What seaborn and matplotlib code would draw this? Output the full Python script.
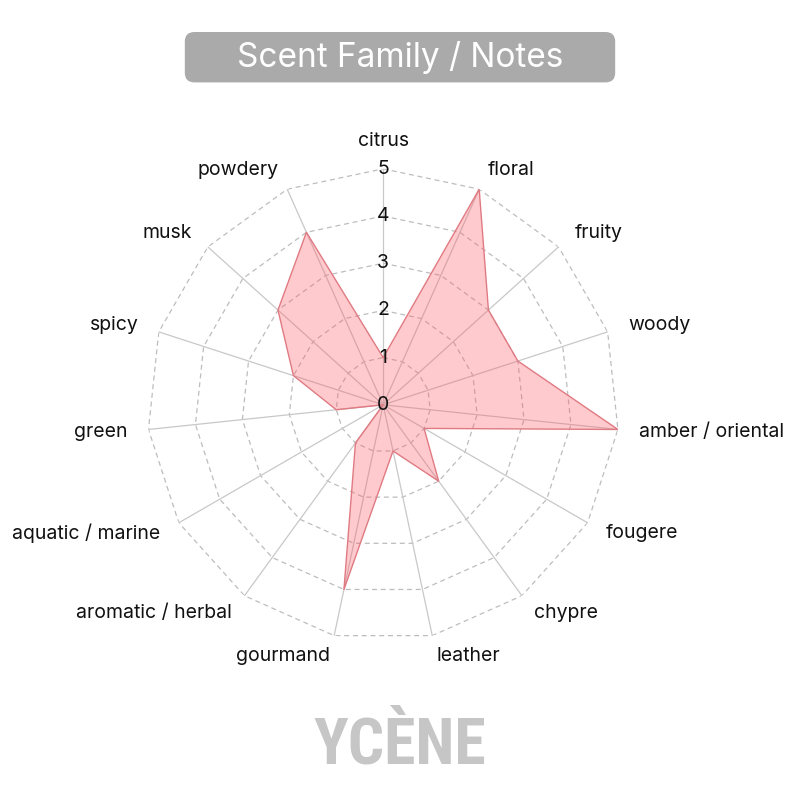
import numpy as np
import pandas as pd
import seaborn as sns
import matplotlib
matplotlib.use("Agg")
import matplotlib.pyplot as plt
from matplotlib.patches import FancyBboxPatch
from matplotlib import font_manager

categories = ["citrus", "floral", "fruity", "woody", "amber / oriental", "fougere",
              "chypre", "leather", "gourmand", "aromatic / herbal", "aquatic / marine",
              "green", "spicy", "musk", "powdery"]
values = [1, 5, 3, 3, 5, 1, 2, 1, 4, 1, 0, 1, 2, 3, 4]
ticks = [0, 1, 2, 3, 4, 5]
title = "Scent Family / Notes"
brand = "YCÈNE"

sns.set_theme(style="white")
plt.rcParams['font.family'] = ['Inter', 'DejaVu Sans']

installed = {f.name for f in font_manager.fontManager.ttflist}
narrow = [f for f in ["Roboto Condensed", "Liberation Sans Narrow", "DejaVu Sans Condensed"]
          if f in installed]
brand_family = narrow[0] if narrow else "Roboto"
brand_size = 46 if narrow else 38

fig = plt.figure(figsize=(8, 8), dpi=100)
ax = fig.add_axes([0.184, 0.199, 0.59, 0.59], projection="polar")
ax.set_theta_zero_location("N")
ax.set_theta_direction(-1)

n = len(categories)
angles = np.arange(n) * 2 * np.pi / n
df = pd.DataFrame({"angle": np.append(angles, 2 * np.pi),
                   "value": values + [values[0]]})

# grid: dashed polygon rings and solid spokes
for r in ticks[1:]:
    ax.plot(np.append(angles, 2 * np.pi), [r] * (n + 1), color="#bdbdbd",
            lw=0.9, ls=(0, (4, 3)), zorder=1)
for a in angles:
    ax.plot([a, a], [0, ticks[-1]], color="#c8c8c8", lw=0.9, zorder=1)

ax.fill(df["angle"], df["value"], color=(1.0, 0.36, 0.4), alpha=0.32, zorder=2, lw=0)
sns.lineplot(data=df, x="angle", y="value", sort=False, ax=ax,
             color="#e07a82", lw=1.0, zorder=3)

ax.set_ylim(0, ticks[-1])
ax.grid(False)
ax.spines["polar"].set_visible(False)
ax.set_xticks([])
ax.set_yticks([])
ax.set_xlabel("")
ax.set_ylabel("")
ax.patch.set_alpha(0)

for t in ticks:
    ax.text(0, t, str(t), ha="center", va="center", fontsize=14, color="#111111", zorder=4)

for a, lab in zip(angles, categories):
    s, c = np.sin(a), np.cos(a)
    ha = "left" if s > 0.1 else ("right" if s < -0.1 else "center")
    r = 5.58 if abs(s) < 0.1 else 5.45
    ax.text(a, r, lab, ha=ha, va="center", fontsize=14, color="#111111")

# title box
box = FancyBboxPatch((0.231, 0.897), 0.538, 0.063, boxstyle="round,pad=0,rounding_size=0.012",
                     transform=fig.transFigure, facecolor="#aaaaaa", edgecolor="none")
fig.patches.append(box)
fig.text(0.5, 0.928, title, ha="center", va="center", fontsize=24, color="white",
         weight="normal")

fig.text(0.5, 0.068, brand, ha="center", va="center", fontsize=brand_size, color="#c6c6c6",
         family=[brand_family, "DejaVu Sans"], weight="bold")

fig.savefig("out.png", dpi=100)
